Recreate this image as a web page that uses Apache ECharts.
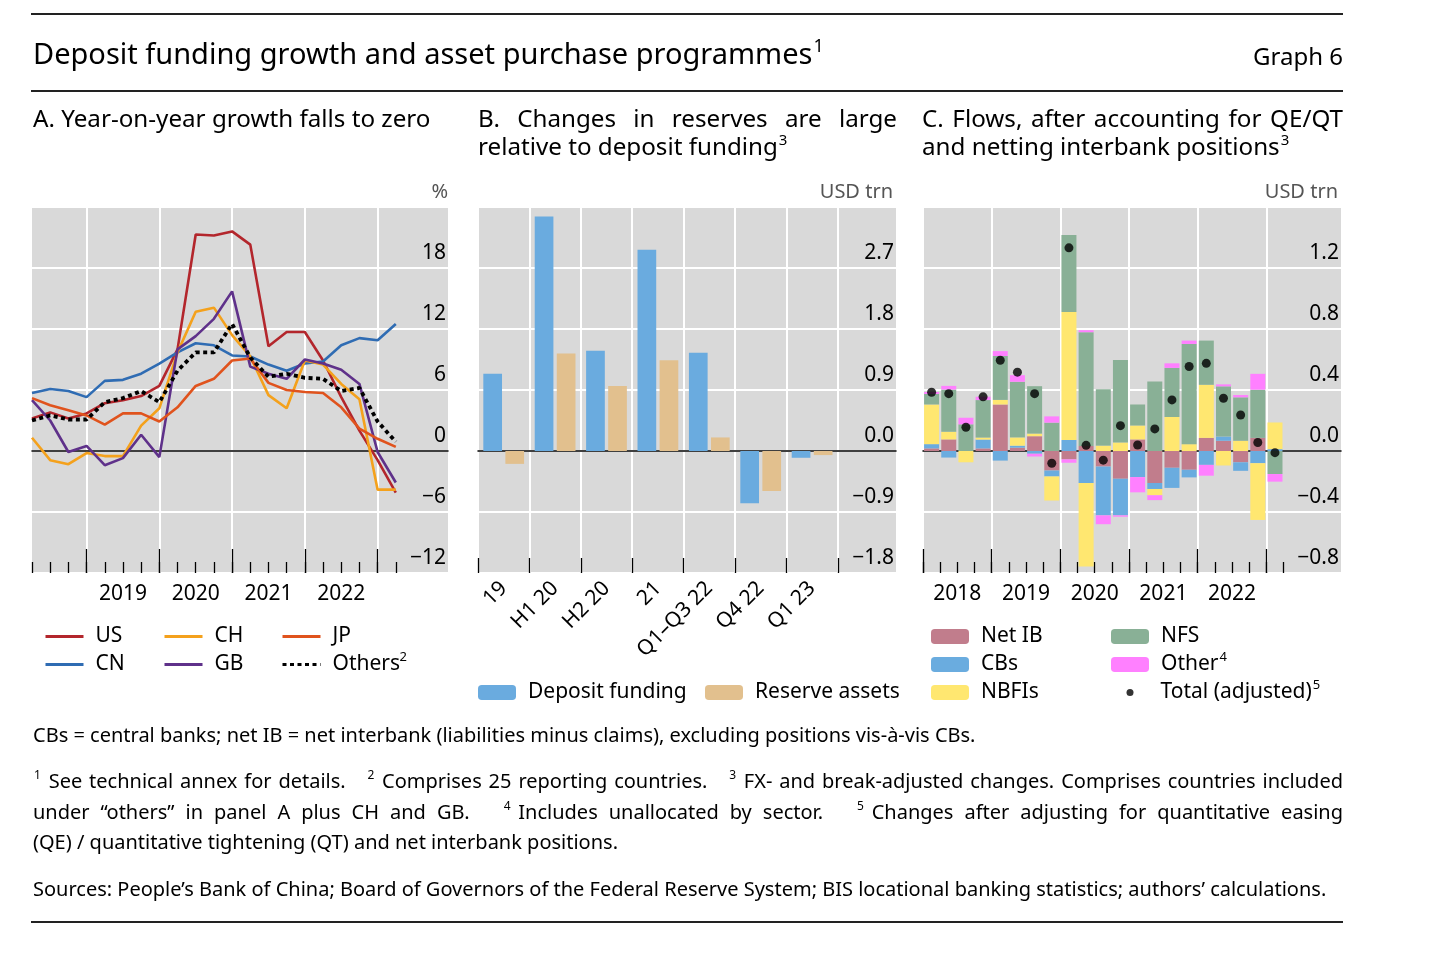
<!DOCTYPE html>
<html>
<head>
<meta charset="utf-8">
<script src="https://cdn.jsdelivr.net/npm/echarts@6/dist/echarts.min.js"></script>
<style>
  html, body { margin: 0; padding: 0; background: #fff; }
  #chart { width: 1456px; height: 954px; }
</style>
</head>
<body>
<div id="chart"></div>
<script>
// quarter-end points (panel A) / quarterly flows (panel C)
const quarters = ['2018Q1', '2018Q2', '2018Q3', '2018Q4', '2019Q1', '2019Q2', '2019Q3', '2019Q4',
  '2020Q1', '2020Q2', '2020Q3', '2020Q4', '2021Q1', '2021Q2', '2021Q3', '2021Q4',
  '2022Q1', '2022Q2', '2022Q3', '2022Q4', '2023Q1'];
const yearsA = ['2019', '2020', '2021', '2022'];
const yearsC = ['2018', '2019', '2020', '2021', '2022'];

// Panel A: year-on-year deposit growth, %
const us = [3.2, 3.8, 3.2, 3.7, 4.7, 5.0, 5.4, 6.4, 10.0, 21.3, 21.2, 21.6, 20.3, 10.3, 11.7, 11.7, 8.9, 5.3, 2.0, -0.9, -4.1];
const cn = [5.7, 6.1, 5.9, 5.3, 6.9, 7.0, 7.6, 8.6, 9.7, 10.6, 10.4, 9.4, 9.3, 8.5, 7.9, 8.6, 8.8, 10.4, 11.1, 10.9, 12.5];
const ch = [1.3, -0.9, -1.3, -0.2, -0.5, -0.5, 2.5, 4.2, 9.7, 13.7, 14.1, 11.4, 9.3, 5.5, 4.2, 8.9, 8.5, 6.6, 5.1, -3.8, -3.8];
const gb = [5.0, 3.0, -0.1, 0.5, -1.4, -0.7, 1.6, -0.6, 10.0, 11.3, 13.0, 15.7, 8.3, 7.6, 7.1, 9.0, 8.6, 8.0, 6.6, -0.1, -3.1];
const jp = [5.2, 4.5, 4.0, 3.5, 2.6, 3.7, 3.7, 2.9, 4.3, 6.4, 7.1, 8.9, 9.1, 6.7, 6.0, 5.8, 5.7, 4.3, 2.2, 1.2, 0.4];
const others = [3.0, 3.5, 3.1, 3.1, 4.8, 5.2, 5.9, 4.8, 7.9, 9.7, 9.7, 12.5, 9.2, 7.3, 7.6, 7.2, 7.1, 5.9, 6.2, 2.9, 0.9];

// Panel B: USD trn
const periodsB = ['19', 'H1 20', 'H2 20', '21', 'Q1–Q3 22', 'Q4 22', 'Q1 23'];
const depositB = [1.14, 3.46, 1.48, 2.97, 1.45, -0.77, -0.10];
const reserveB = [-0.19, 1.44, 0.96, 1.34, 0.20, -0.59, -0.06];

// Panel C: USD trn
const netIB = [0.017, 0.076, 0, 0.017, 0.305, 0.022, 0.097, -0.128, -0.055, 0.033, -0.102, -0.182, 0.076, -0.21, -0.11, -0.123, 0.086, 0.067, -0.074, 0.086, 0];
const cbs = [0.028, -0.043, 0, 0.058, -0.063, 0.013, -0.018, -0.039, 0.072, -0.21, -0.32, -0.24, -0.171, -0.039, -0.132, -0.05, -0.091, 0.028, -0.056, -0.08, 0.012];
const nbfis = [0.26, 0.05, -0.074, 0.013, 0.03, 0.054, 0.017, -0.158, 0.839, -0.547, 0.035, 0.056, 0.091, -0.041, 0.223, 0.045, 0.348, -0.095, 0.067, -0.372, 0.175];
const nfs = [0.069, 0.277, 0.175, 0.246, 0.288, 0.365, 0.311, 0.186, 0.506, 0.746, 0.37, 0.54, 0.138, 0.456, 0.322, 0.657, 0.29, 0.329, 0.285, 0.316, -0.151];
const otherC = [0.013, 0.024, 0.043, 0.022, 0.032, 0.043, -0.018, 0.041, -0.022, 0.013, -0.058, -0.009, -0.1, -0.032, 0.03, 0.022, -0.071, 0.013, 0.015, 0.104, -0.05];
const totalAdj = [0.385, 0.376, 0.156, 0.355, 0.595, 0.517, 0.376, -0.08, 1.332, 0.037, -0.06, 0.166, 0.039, 0.145, 0.335, 0.554, 0.575, 0.346, 0.236, 0.056, -0.011];

const FONT = 'Noto Sans';
const GREY = '#d9d9d9';
const TOP = 207, H = 366;
const stepA = 18.19, slotB = 51.4, slotC = 17.17;
const LEG_SIZE = 21, LEG_ROW = 28;

const ctx = document.createElement('canvas').getContext('2d');
function textWidth(s, size) {
  ctx.font = size + 'px "' + FONT + '"';
  return ctx.measureText(s).width;
}
function txt(s, x, y, size, color) {
  return { type: 'text', x: x, y: y, silent: true,
    style: { text: s, fontSize: size, fontFamily: FONT, fill: color, align: 'left', verticalAlign: 'middle' } };
}
// one line of text; '^' marks a superscript, extra spaces widen a gap,
// opts.width justifies the line, opts.align 'right' anchors at x
function textLine(str, x, y, size, opts) {
  opts = opts || {};
  const color = opts.color || '#000';
  const supSize = Math.round(size * 0.62);
  const toks = [];
  let gap = 0;
  str.split(' ').forEach(p => {
    if (p === '') { gap++; return; }
    const k = p.indexOf('^');
    const main = k < 0 ? p : p.slice(0, k);
    const sup = k < 0 ? '' : p.slice(k + 1);
    toks.push({ main, sup, gap: toks.length ? gap + 1 : 0,
      w: textWidth(main, size) + (sup ? textWidth(sup, supSize) + 1 : 0) });
    gap = 0;
  });
  const space = textWidth(' ', size);
  const supGap = space * 1.5;
  let stretch = space;
  let words = 0, fixed = 0, units = 0;
  toks.forEach((t, i) => {
    words += t.w;
    if (i) { if (toks[i - 1].main === '') fixed += supGap; else units += t.gap; }
  });
  if (opts.width) stretch = (opts.width - words - fixed) / units;
  let cx = x;
  if (opts.align === 'right') cx = x - (words + fixed + units * stretch);
  const els = [];
  toks.forEach((t, i) => {
    if (i) cx += toks[i - 1].main === '' ? supGap : t.gap * stretch;
    if (t.main) { els.push(txt(t.main, cx, y, size, color)); cx += textWidth(t.main, size); }
    if (t.sup) { els.push(txt(t.sup, cx + 1, y - size * 0.32, supSize, color)); cx += textWidth(t.sup, supSize) + 1; }
  });
  return els;
}
function rule(y) {
  return { type: 'line', silent: true, shape: { x1: 31, y1: y, x2: 1343, y2: y }, style: { stroke: '#222', lineWidth: 2 } };
}

const fmtSigned = d => v => {
  const s = Math.abs(v).toFixed(d);
  return v < 0 ? '\u2212' + s : s;
};

function yAxisVisible(grid, min, max, interval, decimals) {
  return {
    type: 'value', gridIndex: grid, min: min, max: max, interval: interval, position: 'right',
    axisLine: { show: false }, axisTick: { show: false },
    axisLabel: { inside: true, margin: 2, verticalAlign: 'bottom', padding: [0, 0, 4, 0],
      color: '#000', fontSize: 21, fontFamily: FONT,
      formatter: v => (Math.abs(v - max) < 1e-9 ? '' : fmtSigned(decimals)(v)) },
    splitLine: { show: true, lineStyle: { color: '#fff', width: 2 } }
  };
}
function yAxisHidden(grid, min, max, interval) {
  return { type: 'value', gridIndex: grid, min: min, max: max, interval: interval, show: false, splitLine: { show: false } };
}
function tickAxis(grid, max, ticks, len, split, labels, extraLabel) {
  return {
    type: 'value', gridIndex: grid, min: 0, max: max, position: 'bottom',
    axisLine: { show: false, onZero: false },
    axisTick: { show: true, inside: true, length: len, customValues: ticks, lineStyle: { color: '#000', width: 1.3 } },
    axisLabel: labels ? Object.assign({ show: true, customValues: labels, color: '#000', fontSize: 21, fontFamily: FONT, margin: 11 }, extraLabel)
      : { show: false },
    splitLine: { show: split, lineStyle: { color: '#fff', width: 2 } }
  };
}
function zeroAxis(grid, max) {
  return { type: 'value', gridIndex: grid, min: 0, max: max, position: 'bottom',
    axisLine: { show: true, onZero: true, lineStyle: { color: '#000', width: 1.5 } },
    axisTick: { show: false }, axisLabel: { show: false }, splitLine: { show: false } };
}

const idx = quarters.map((q, i) => i);
const maxA = 416 / stepA, maxB = 418 / slotB, maxC = 418 / slotC;
const majorsA = idx.filter(i => quarters[i].endsWith('Q4'));
const majorsC = idx.filter(i => quarters[i].endsWith('Q1'));
const ticksB = periodsB.map((p, i) => i).concat([periodsB.length]);

const xAxis = [
  // A
  tickAxis(0, maxA, idx, 11, false, yearsA.map(y => quarters.indexOf(y + 'Q2')),
    { formatter: v => quarters[Math.round(v)].slice(0, 4) }),
  tickAxis(0, maxA, majorsA, 24, true, null),
  zeroAxis(0, maxA),
  // B
  tickAxis(1, maxB, ticksB, 15, true, periodsB.map((p, i) => i + 0.5),
    { rotate: 45, margin: 12, formatter: v => periodsB[Math.floor(v)] }),
  zeroAxis(1, maxB),
  { type: 'category', gridIndex: 2, data: periodsB, show: false },
  // C
  tickAxis(3, maxC, idx.concat([quarters.length]), 11, false, yearsC.map(y => quarters.indexOf(y + 'Q1') + 2),
    { formatter: v => quarters[Math.round(v)].slice(0, 4) }),
  tickAxis(3, maxC, majorsC, 24, true, null),
  zeroAxis(3, maxC),
  { type: 'category', gridIndex: 4, data: quarters, show: false }
];
const yAxis = [
  yAxisVisible(0, -12, 24, 6, 0),
  yAxisVisible(1, -1.8, 3.6, 0.9, 1),
  yAxisHidden(2, -1.8, 3.6, 0.9),
  yAxisVisible(3, -0.8, 1.6, 0.4, 1),
  yAxisHidden(4, -0.8, 1.6, 0.4)
];

function lineSeries(name, arr, color, dotted) {
  return {
    name: name, type: 'line', xAxisIndex: 0, yAxisIndex: 0, symbol: 'none',
    data: arr.map((v, i) => [i, v]),
    lineStyle: { color: color, width: dotted ? 3.8 : 2.6, type: dotted ? [4, 3.5] : 'solid', cap: 'butt' },
    itemStyle: { color: color }
  };
}
function barB(name, arr, color) {
  return { name: name, type: 'bar', xAxisIndex: 5, yAxisIndex: 2, data: arr, barWidth: 18.7, barGap: '18%',
    itemStyle: { color: color } };
}
function barC(name, arr, color) {
  return { name: name, type: 'bar', xAxisIndex: 9, yAxisIndex: 4, stack: 'c', data: arr, barWidth: 15,
    itemStyle: { color: color } };
}

const series = [
  lineSeries('US', us, '#b3262c'),
  lineSeries('CN', cn, '#2f6cb3'),
  lineSeries('CH', ch, '#f4a11c'),
  lineSeries('GB', gb, '#5f318a'),
  lineSeries('JP', jp, '#e0531d'),
  lineSeries('Others', others, '#000', true),
  barB('Deposit funding', depositB, '#6aabdf'),
  barB('Reserve assets', reserveB, '#e2c08e'),
  barC('Net IB', netIB, '#c17d8c'),
  barC('CBs', cbs, '#6aacdf'),
  barC('NBFIs', nbfis, '#ffe770'),
  barC('NFS', nfs, '#89b096'),
  barC('Other', otherC, '#ff80ff'),
  { name: 'Total (adjusted)', type: 'scatter', xAxisIndex: 9, yAxisIndex: 4, data: totalAdj,
    symbolSize: 9, itemStyle: { color: '#000' }, z: 5 }
];

// footnote markers next to legend names
const sups = { 'Others': '2', 'Other': '4', 'Total (adjusted)': '5' };
const legendSups = [];
function legend(names, left, top, iconW, iconH, textPad, extra) {
  names.forEach((n, r) => {
    if (!sups[n]) return;
    const x = left + iconW + 5 + textPad + textWidth(n, LEG_SIZE) + 1;
    const y = top + LEG_SIZE / 2 + r * LEG_ROW - LEG_SIZE * 0.32;
    legendSups.push(txt(sups[n], x, y, 13, '#000'));
  });
  return Object.assign({
    data: names, left: left, top: top, orient: 'vertical', itemWidth: iconW, itemHeight: iconH,
    itemGap: LEG_ROW - LEG_SIZE, selectedMode: false, padding: 0,
    textStyle: { color: '#000', fontSize: LEG_SIZE, fontFamily: FONT, lineHeight: LEG_SIZE, padding: [0, 0, 0, textPad] }
  }, extra || {});
}
const lineLegend = { itemStyle: { opacity: 0 }, lineStyle: { width: 3 } };

const legends = [
  legend(['US', 'CN'], 44, 626, 38, 14, 7, lineLegend),
  legend(['CH', 'GB'], 163, 626, 38, 14, 7, lineLegend),
  legend(['JP', 'Others'], 281, 626, 38, 14, 7, lineLegend),
  legend(['Deposit funding'], 478, 682, 38, 15, 7),
  legend(['Reserve assets'], 705, 682, 38, 15, 7),
  legend(['Net IB', 'CBs', 'NBFIs'], 931, 626, 38, 15, 7),
  legend(['NFS', 'Other'], 1111, 626, 38, 15, 7),
  legend(['Total (adjusted)'], 1126.5, 682, 7, 7, 22)
];

const graphic = [].concat(
  [rule(14), rule(91), rule(922)],
  textLine('Deposit funding growth and asset purchase programmes^1', 33, 56, 29),
  textLine('Graph 6', 1343, 58, 24, { align: 'right' }),
  textLine('A. Year-on-year growth falls to zero', 33, 120, 24.2),
  textLine('B. Changes in reserves are large', 478, 120, 24.2, { width: 419 }),
  textLine('relative to deposit funding^3', 478, 148, 24.2),
  textLine('C. Flows, after accounting for QE/QT', 922, 120, 24.2, { width: 421 }),
  textLine('and netting interbank positions^3', 922, 148, 24.2),
  textLine('%', 448, 192, 20, { align: 'right', color: '#555' }),
  textLine('USD trn', 893, 192, 20, { align: 'right', color: '#555' }),
  textLine('USD trn', 1338, 192, 20, { align: 'right', color: '#555' }),
  textLine('CBs = central banks; net IB = net interbank (liabilities minus claims), excluding positions vis-à-vis CBs.', 33, 736, 20),
  textLine('^1 See technical annex for details.   ^2 Comprises 25 reporting countries.   ^3 FX- and break-adjusted changes. Comprises countries included', 33, 782, 20, { width: 1310 }),
  textLine('under “others” in panel A plus CH and GB.   ^4 Includes unallocated by sector.   ^5 Changes after adjusting for quantitative easing', 33, 813, 20, { width: 1310 }),
  textLine('(QE) / quantitative tightening (QT) and net interbank positions.', 33, 843, 20),
  textLine('Sources: People’s Bank of China; Board of Governors of the Federal Reserve System; BIS locational banking statistics; authors’ calculations.', 33, 890, 20),
  legendSups
);

const chart = echarts.init(document.getElementById('chart'), null, { renderer: 'canvas' });
chart.setOption({
  animation: false,
  backgroundColor: '#fff',
  textStyle: { fontFamily: FONT },
  grid: [
    { left: 32, top: TOP, width: 416, height: H, show: true, backgroundColor: GREY, borderWidth: 0 },
    { left: 478, top: TOP, width: 418, height: H, show: true, backgroundColor: GREY, borderWidth: 0 },
    { left: 478, top: TOP, width: periodsB.length * slotB, height: H },
    { left: 923, top: TOP, width: 418, height: H, show: true, backgroundColor: GREY, borderWidth: 0 },
    { left: 923, top: TOP, width: quarters.length * slotC, height: H }
  ],
  xAxis: xAxis,
  yAxis: yAxis,
  legend: legends,
  graphic: graphic,
  series: series
});
</script>
</body>
</html>
